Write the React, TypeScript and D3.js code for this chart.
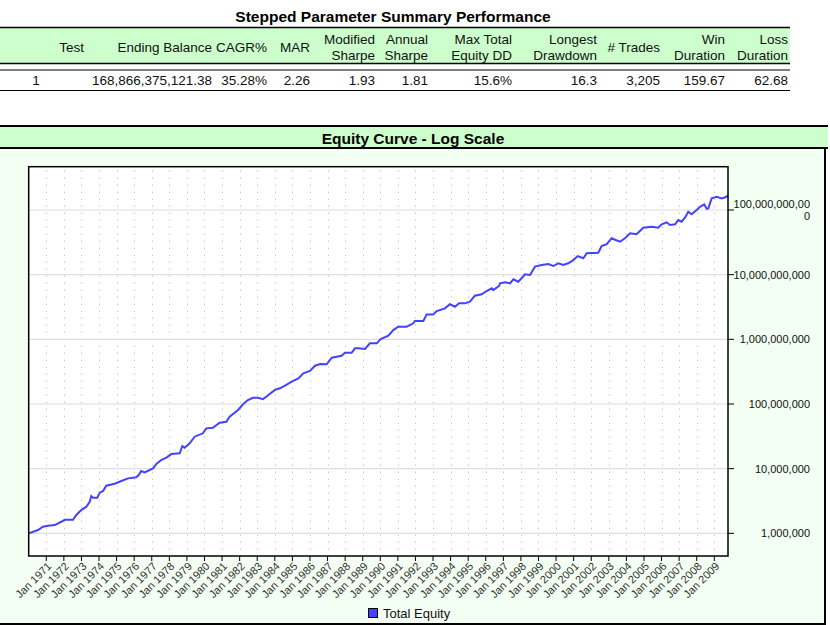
import React from 'react';
import * as d3 from 'd3';

// ---------- DATA ----------
const summaryTitle = 'Stepped Parameter Summary Performance';
const headerLabels: string[][] = [
  ['Test'], ['Ending Balance'], ['CAGR%'], ['MAR'], ['Modified', 'Sharpe'], ['Annual', 'Sharpe'],
  ['Max Total', 'Equity DD'], ['Longest', 'Drawdown'], ['# Trades'], ['Win', 'Duration'], ['Loss', 'Duration'],
];
const rowValues = ['1', '168,866,375,121.38', '35.28%', '2.26', '1.93', '1.81', '15.6%', '16.3', '3,205', '159.67', '62.68'];

const chartTitle = 'Equity Curve - Log Scale';
const seriesName = 'Total Equity';

// decimal years
const dates = [
  1970.0, 1970.53, 1970.81, 1971.1, 1971.48, 1971.85, 1972.05, 1972.52, 1972.71, 1972.99,
  1973.28, 1973.47, 1973.56, 1973.66, 1973.9, 1974.04, 1974.23, 1974.41, 1974.89, 1975.27,
  1975.65, 1976.12, 1976.26, 1976.4, 1976.6, 1977.07, 1977.26, 1977.54, 1977.83, 1978.11,
  1978.59, 1978.74, 1978.87, 1979.16, 1979.44, 1979.91, 1980.1, 1980.48, 1980.86, 1981.24,
  1981.43, 1981.91, 1982.19, 1982.47, 1982.76, 1983.04, 1983.33, 1983.57, 1983.63, 1984.01,
  1984.29, 1984.58, 1984.96, 1985.34, 1985.62, 1986.0, 1986.29, 1986.57, 1986.95, 1987.24,
  1987.8, 1987.99, 1988.37, 1988.56, 1988.75, 1989.13, 1989.41, 1989.8, 1990.02, 1990.46,
  1990.74, 1991.02, 1991.5, 1991.88, 1991.97, 1992.45, 1992.64, 1993.01, 1993.21, 1993.68,
  1993.96, 1994.25, 1994.48, 1994.82, 1995.1, 1995.38, 1995.77, 1996.05, 1996.34, 1996.43,
  1996.77, 1996.81, 1997.09, 1997.38, 1997.57, 1997.85, 1998.04, 1998.23, 1998.52, 1998.8,
  1999.18, 1999.56, 1999.84, 2000.13, 2000.41, 2000.69, 2000.98, 2001.23, 2001.55, 2001.74,
  2002.4, 2002.59, 2002.88, 2003.16, 2003.39, 2003.64, 2003.92, 2004.21, 2004.58, 2004.96,
  2005.44, 2005.81, 2006.01, 2006.29, 2006.48, 2006.77, 2006.95, 2007.14, 2007.33, 2007.52,
  2007.71, 2008.0, 2008.19, 2008.43, 2008.57, 2008.66, 2008.85, 2009.14, 2009.42, 2009.7,
  2009.78,
];
const equity = [
  1.0e6, 1.125e6, 1.265e6, 1.31e6, 1.34e6, 1.51e6, 1.62e6, 1.62e6, 1.92e6, 2.29e6,
  2.58e6, 3.08e6, 3.77e6, 3.55e6, 3.55e6, 4.25e6, 4.51e6, 5.45e6, 5.85e6, 6.44e6,
  7.08e6, 7.34e6, 7.96e6, 9.18e6, 8.77e6, 1.01e7, 1.18e7, 1.36e7, 1.48e7, 1.68e7,
  1.73e7, 2.24e7, 2.11e7, 2.47e7, 3.12e7, 3.52e7, 4.2e7, 4.3e7, 5.13e7, 5.32e7,
  6.36e7, 8.07e7, 9.89e7, 1.15e8, 1.25e8, 1.25e8, 1.19e8, 1.33e8, 1.38e8, 1.65e8,
  1.75e8, 1.92e8, 2.21e8, 2.49e8, 2.98e8, 3.24e8, 3.91e8, 4.15e8, 4.11e8, 5.19e8,
  5.57e8, 6.2e8, 6.2e8, 7.26e8, 7.26e8, 7.08e8, 8.67e8, 8.67e8, 1.01e9, 1.14e9,
  1.39e9, 1.57e9, 1.57e9, 1.77e9, 1.92e9, 1.92e9, 2.43e9, 2.43e9, 2.74e9, 3.01e9,
  3.48e9, 3.19e9, 3.6e9, 3.6e9, 3.81e9, 4.72e9, 4.96e9, 5.58e9, 6.15e9, 5.78e9,
  6.75e9, 7.35e9, 7.61e9, 7.35e9, 8.47e9, 7.78e9, 8.78e9, 1.01e10, 9.87e9, 1.33e10,
  1.41e10, 1.46e10, 1.36e10, 1.5e10, 1.41e10, 1.5e10, 1.68e10, 1.94e10, 1.79e10, 2.14e10,
  2.18e10, 2.77e10, 2.97e10, 3.65e10, 3.43e10, 3.23e10, 3.65e10, 4.36e10, 4.21e10, 5.32e10,
  5.51e10, 5.32e10, 6.0e10, 6.44e10, 5.85e10, 6.0e10, 7.0e10, 6.58e10, 7.59e10, 9.4e10,
  8.57e10, 9.98e10, 1.12e11, 1.22e11, 1.04e11, 1.06e11, 1.51e11, 1.6e11, 1.51e11, 1.6e11,
  1.6887e11,
];
const yTickValues = [1e6, 1e7, 1e8, 1e9, 1e10, 1e11];
const xTickYears = d3.range(1971, 2010);
const xDomain = [1970.0, 2009.78];
const yDomain = [4.46e5, 4.67e11];

// ---------- LAYOUT ----------
const W = 830;
const H = 625;
const FONT = "'Liberation Sans', Arial, sans-serif";
const colRight = [84, 212, 267, 310, 375, 428, 512, 597, 660, 725, 788];
const plot = { left: 28.7, right: 728, top: 166.7, bottom: 556 };
const GREEN = '#ccffcc';
const BODY = '#f2fff2';
const LINE = '#4242ff';

export default function App() {
  const x = d3.scaleLinear().domain(xDomain).range([plot.left, plot.right]);
  const y = d3.scaleLog().domain(yDomain).range([plot.bottom, plot.top]);
  const pts = dates.map((d, i) => [d, equity[i]] as [number, number]);
  const line = d3.line<[number, number]>().x((d) => x(d[0])).y((d) => y(d[1]));
  const fmt = d3.format(',');

  return (
    <svg width={W} height={H} style={{ position: 'absolute', left: 0, top: 0, background: '#fff' }} fontFamily={FONT}>
      {/* Summary table */}
      <text x={393} y={16} textAnchor="middle" dominantBaseline="central" fontSize={15.5} fontWeight="bold">{summaryTitle}</text>
      <rect x={0} y={28} width={790} height={35} fill={GREEN} />
      <line x1={0} x2={790} y1={27.5} y2={27.5} stroke="#000" strokeWidth={1.5} />
      <line x1={0} x2={790} y1={63.5} y2={63.5} stroke="#000" strokeWidth={1.5} />
      <line x1={0} x2={790} y1={70} y2={70} stroke="#000" strokeWidth={1} />
      <line x1={0} x2={790} y1={90.5} y2={90.5} stroke="#000" strokeWidth={1} />
      {headerLabels.map((lines, i) =>
        lines.map((t, j) => (
          <text key={`h${i}-${j}`} x={colRight[i]} y={lines.length === 1 ? 47 : 39 + j * 16} textAnchor="end"
            dominantBaseline="central" fontSize={13.5} fill="#111">{t}</text>
        ))
      )}
      {rowValues.map((v, i) => (
        <text key={`v${i}`} x={i === 0 ? 36 : colRight[i]} y={80.5} textAnchor={i === 0 ? 'middle' : 'end'}
          dominantBaseline="central" fontSize={13.5} fill="#111">{v}</text>
      ))}

      {/* Chart panel */}
      <rect x={-1} y={126} width={826} height={498} fill={BODY} stroke="#000" strokeWidth={2} />
      <rect x={-1} y={126} width={829} height={22} fill={GREEN} />
      <line x1={0} x2={828} y1={126} y2={126} stroke="#000" strokeWidth={2} />
      <line x1={0} x2={828} y1={148} y2={148} stroke="#000" strokeWidth={2} />
      <text x={413} y={138} textAnchor="middle" dominantBaseline="central" fontSize={15.5} fontWeight="bold">{chartTitle}</text>

      {/* Plot area */}
      <rect x={plot.left} y={plot.top} width={plot.right - plot.left} height={plot.bottom - plot.top} fill="#fff" />
      {xTickYears.map((yr) => (
        <line key={`vg${yr}`} x1={Math.round(x(yr)) + 0.5} x2={Math.round(x(yr)) + 0.5} y1={plot.top + 4} y2={plot.bottom}
          stroke="#b0b0b0" strokeWidth={1} strokeDasharray="1,6" />
      ))}
      {yTickValues.map((v) => (
        <line key={`hg${v}`} x1={plot.left} x2={plot.right} y1={y(v)} y2={y(v)} stroke="#dedede" strokeWidth={1.2} />
      ))}
      <path d={line(pts) || ''} fill="none" stroke={LINE} strokeWidth={2} strokeLinejoin="miter" />
      <rect x={plot.left} y={plot.top} width={plot.right - plot.left} height={plot.bottom - plot.top} fill="none" stroke="#000" strokeWidth={1.5} />

      {/* Y axis (right) */}
      {yTickValues.map((v) => {
        const label = fmt(v);
        const parts = label.length > 14 ? [label.slice(0, 14), label.slice(14)] : [label];
        return (
          <g key={`yt${v}`}>
            <line x1={plot.right} x2={plot.right + 6} y1={y(v)} y2={y(v)} stroke="#000" strokeWidth={1} />
            {parts.map((p, j) => (
              <text key={j} x={810} y={parts.length === 1 ? y(v) : y(v) - 6 + j * 12} textAnchor="end"
                dominantBaseline="central" fontSize={11} fill="#111">{p}</text>
            ))}
          </g>
        );
      })}

      {/* X axis (bottom) */}
      {xTickYears.map((yr) => (
        <g key={`xt${yr}`}>
          <line x1={x(yr)} x2={x(yr)} y1={plot.bottom} y2={plot.bottom + 5} stroke="#000" strokeWidth={1} />
          <text transform={`translate(${x(yr) + 3},${plot.bottom + 8}) rotate(-45)`} textAnchor="end"
            dominantBaseline="central" fontSize={11} fill="#333">{`Jan ${yr}`}</text>
        </g>
      ))}

      {/* Legend */}
      <rect x={368.5} y={608.5} width={9} height={9} fill={LINE} stroke="#000" strokeWidth={1} />
      <text x={383} y={613.5} dominantBaseline="central" fontSize={13} fill="#111">{seriesName}</text>
    </svg>
  );
}
